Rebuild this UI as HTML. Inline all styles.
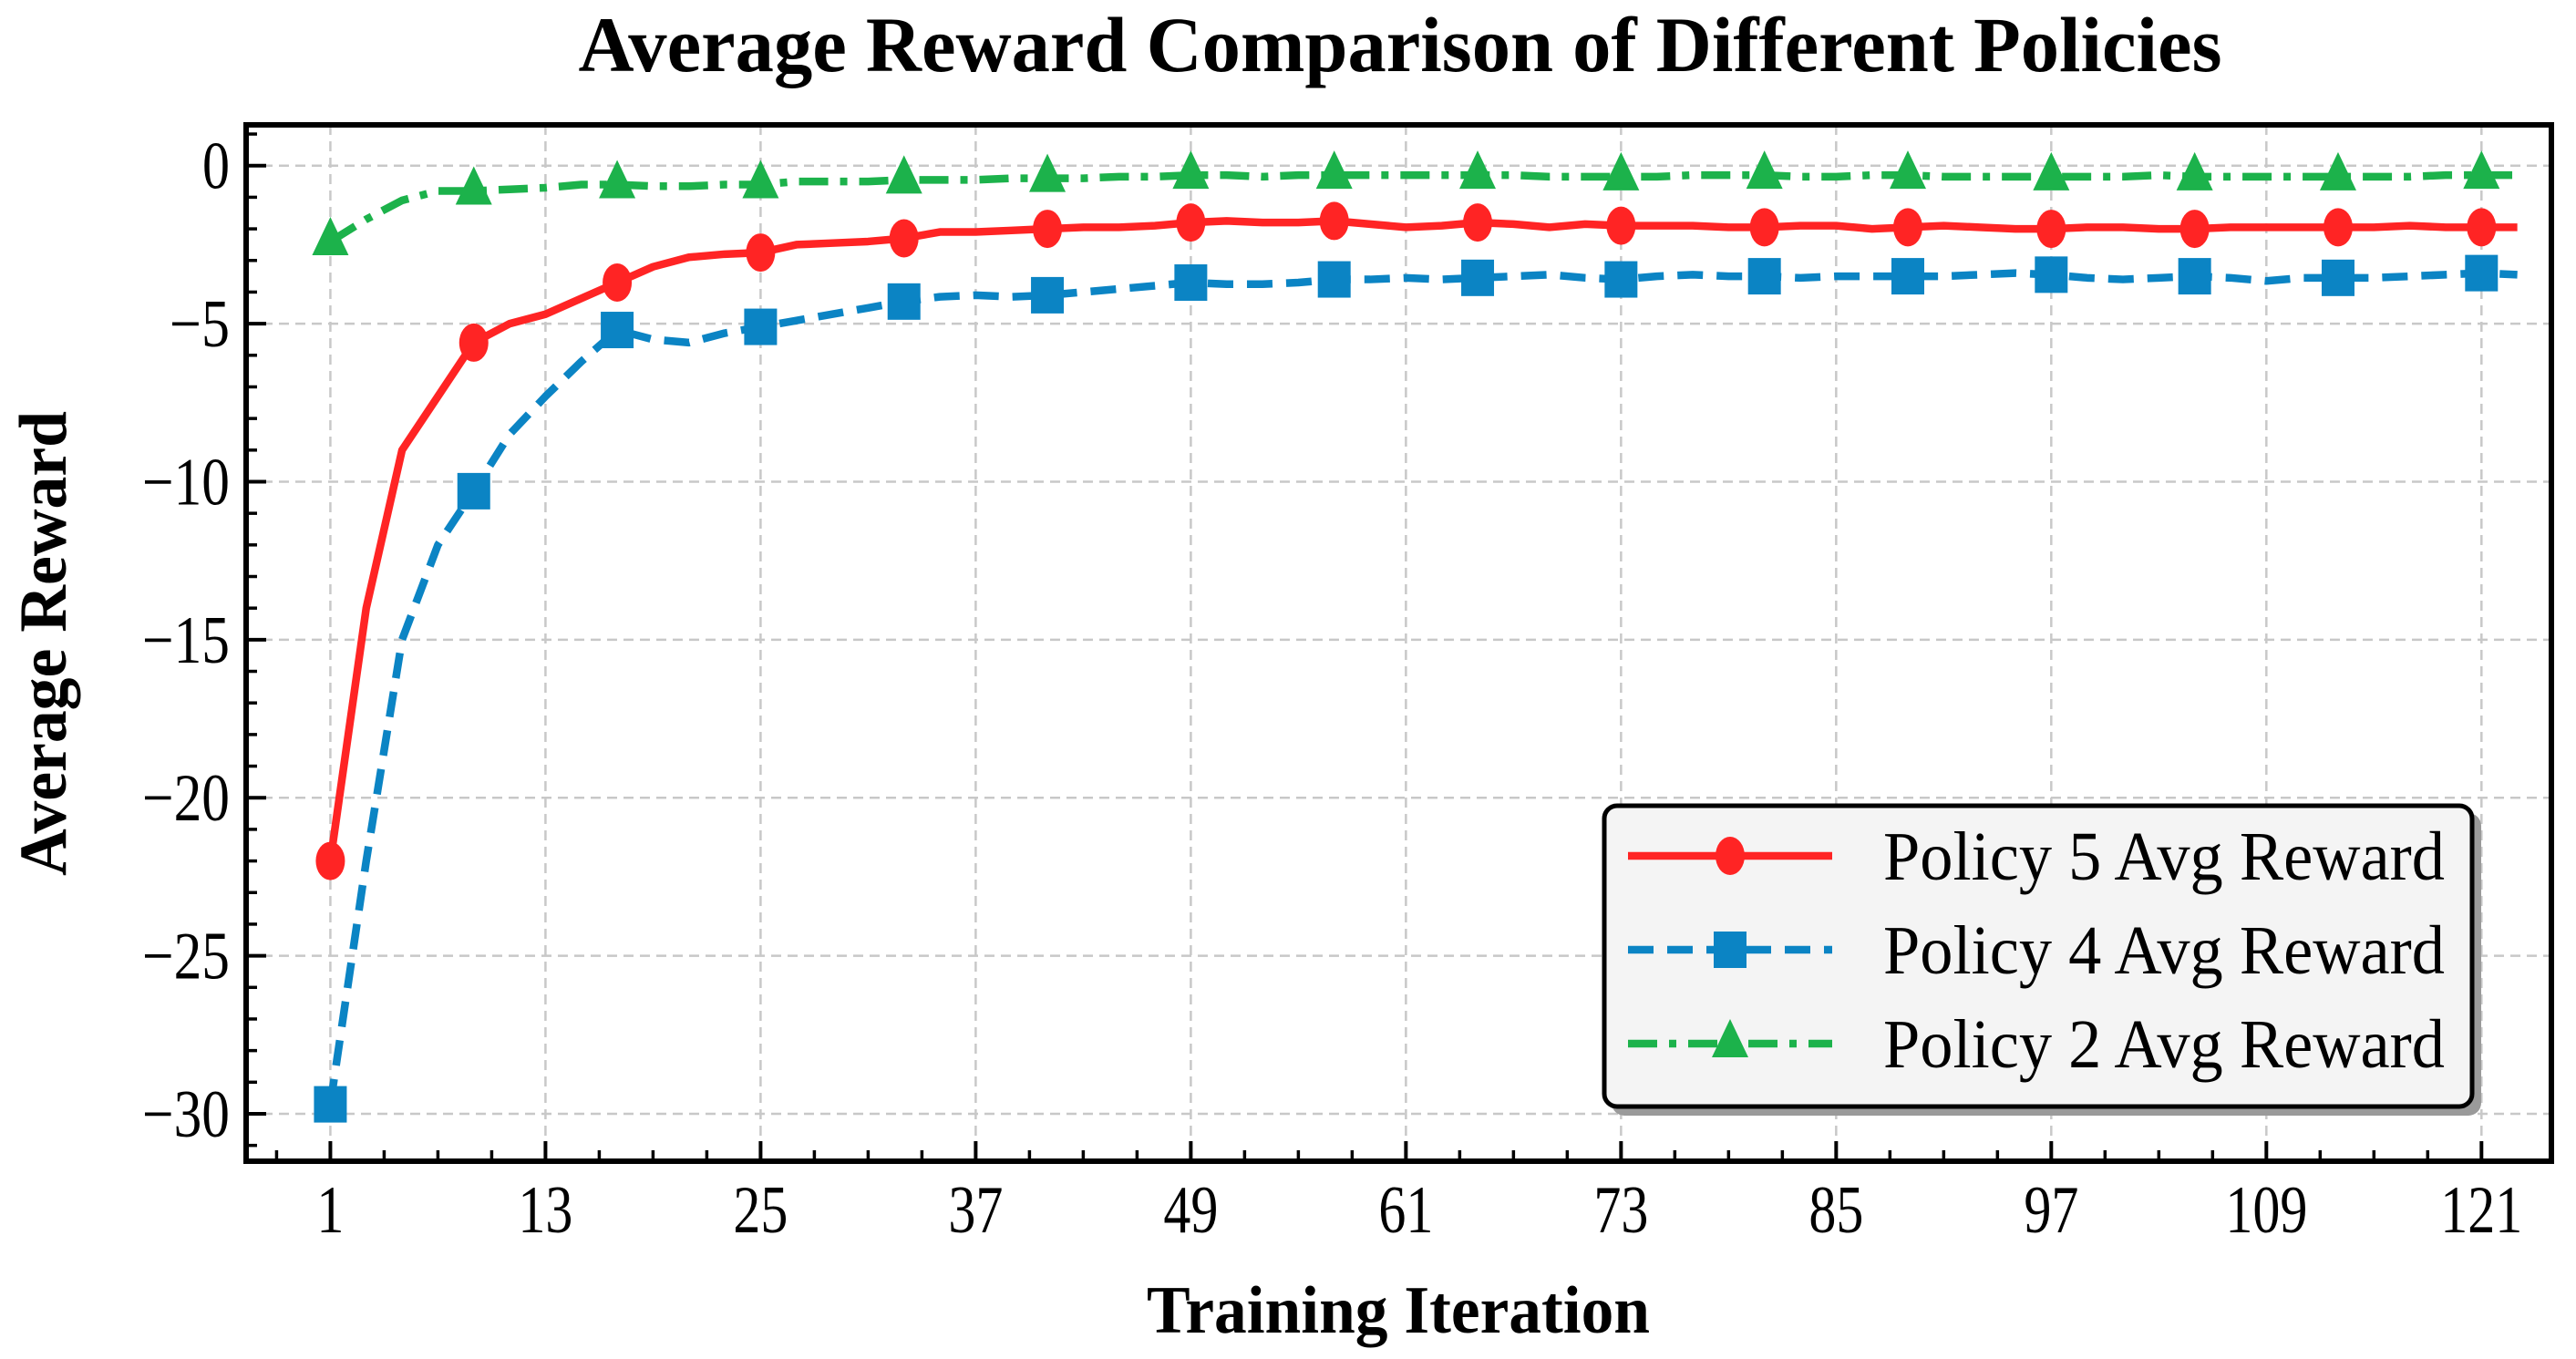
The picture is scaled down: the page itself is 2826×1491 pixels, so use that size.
<!DOCTYPE html>
<html><head><meta charset="utf-8"><style>html,body{margin:0;padding:0;background:#fff}svg{display:block}text{font-family:"Liberation Serif",serif}</style></head>
<body>
<svg id="chart" width="2826" height="1491" viewBox="0 0 2826 1491" xmlns="http://www.w3.org/2000/svg">
<rect width="2826" height="1491" fill="#fff"/>
<text x="1536" y="78" font-size="86" font-weight="bold" text-anchor="middle" textLength="1803" lengthAdjust="spacingAndGlyphs">Average Reward Comparison of Different Policies</text>
<text x="1534" y="1462" font-size="74" font-weight="bold" text-anchor="middle" textLength="552" lengthAdjust="spacingAndGlyphs">Training Iteration</text>
<text transform="translate(72,706) rotate(-90)" font-size="74" font-weight="bold" text-anchor="middle" textLength="510" lengthAdjust="spacingAndGlyphs">Average Reward</text>
<g id="grid"></g><g id="series"></g><g id="axes"></g><g id="legend"></g>
</svg>
<script>
const iters = [1,3,5,7,9,11,13,15,17,19,21,23,25,27,29,31,33,35,37,39,41,43,45,47,49,51,53,55,57,59,61,63,65,67,69,71,73,75,77,79,81,83,85,87,89,91,93,95,97,99,101,103,105,107,109,111,113,115,117,119,121,123];
const policy5 = [-22,-14.0,-9.0,-7.3,-5.6,-5.0,-4.7,-4.2,-3.7,-3.2,-2.9,-2.8,-2.75,-2.5,-2.45,-2.4,-2.3,-2.1,-2.1,-2.05,-2.0,-1.95,-1.95,-1.9,-1.8,-1.75,-1.8,-1.8,-1.75,-1.85,-1.95,-1.9,-1.8,-1.85,-1.95,-1.85,-1.9,-1.9,-1.9,-1.95,-1.95,-1.9,-1.9,-2.0,-1.95,-1.9,-1.95,-2.0,-2.0,-1.95,-1.95,-2.0,-2.0,-1.95,-1.95,-1.95,-1.95,-1.95,-1.9,-1.95,-1.95,-1.95];
const policy4 = [-29.7,-22,-15,-12,-10.3,-8.5,-7.3,-6.2,-5.2,-5.5,-5.6,-5.3,-5.1,-4.9,-4.7,-4.5,-4.3,-4.15,-4.1,-4.15,-4.1,-4.0,-3.9,-3.8,-3.7,-3.75,-3.75,-3.7,-3.6,-3.6,-3.55,-3.6,-3.55,-3.5,-3.45,-3.55,-3.6,-3.5,-3.45,-3.5,-3.5,-3.55,-3.5,-3.5,-3.5,-3.5,-3.45,-3.4,-3.45,-3.55,-3.6,-3.55,-3.5,-3.55,-3.65,-3.55,-3.55,-3.55,-3.5,-3.45,-3.4,-3.45];
const policy2 = [-2.4,-1.7,-1.1,-0.8,-0.8,-0.75,-0.7,-0.6,-0.6,-0.65,-0.65,-0.6,-0.6,-0.5,-0.5,-0.5,-0.45,-0.45,-0.45,-0.4,-0.4,-0.4,-0.35,-0.35,-0.3,-0.3,-0.35,-0.3,-0.3,-0.3,-0.3,-0.3,-0.3,-0.3,-0.35,-0.35,-0.35,-0.35,-0.3,-0.3,-0.3,-0.35,-0.35,-0.3,-0.3,-0.35,-0.35,-0.35,-0.35,-0.35,-0.35,-0.3,-0.35,-0.35,-0.35,-0.35,-0.35,-0.35,-0.35,-0.3,-0.3,-0.3];
const xTicks = [1,13,25,37,49,61,73,85,97,109,121];
const yTicks = [0,-5,-10,-15,-20,-25,-30];
const legendLabels = ["Policy 5 Avg Reward","Policy 4 Avg Reward","Policy 2 Avg Reward"];

const NS="http://www.w3.org/2000/svg";
const L=270,R=2799,T=137,B=1274;
const X0=-3.7,X1=124.9,Y0=-31.5,Y1=1.29;
const sx=v=>L+(v-X0)/(X1-X0)*(R-L);
const sy=v=>T+(Y1-v)/(Y1-Y0)*(B-T);
function mk(tag,attrs,parent){const e=document.createElementNS(NS,tag);for(const k in attrs)e.setAttribute(k,attrs[k]);parent.appendChild(e);return e;}
const grid=document.getElementById('grid'),ser=document.getElementById('series'),axes=document.getElementById('axes'),leg=document.getElementById('legend');
xTicks.forEach(t=>{const e=mk('line',{x1:sx(t),x2:sx(t),y1:T,y2:B,stroke:'#c8c8c8','stroke-width':2.5,'stroke-dasharray':'11 7'},grid);

});
yTicks.forEach(t=>{const e=mk('line',{x1:L,x2:R,y1:sy(t),y2:sy(t),stroke:'#c8c8c8','stroke-width':2.5,'stroke-dasharray':'11 7'},grid);

});

const series=[
 {vals:policy5,color:'#ff2424',dash:'',marker:'circle',name:'policy-5'},
 {vals:policy4,color:'#0b84c4',dash:'28 15',marker:'square',name:'policy-4'},
 {vals:policy2,color:'#1cb24b',dash:'32 13 8 13',marker:'triangle',name:'policy-2'}];
function marker(type,x,y,color,g){
 let e;
 if(type==='circle')e=mk('ellipse',{cx:x,cy:y,rx:16,ry:21,fill:color},g);
 else if(type==='square')e=mk('rect',{x:x-18,y:y-20,width:36,height:40,fill:color},g);
 else e=mk('polygon',{points:`${x},${y-27} ${x-20},${y+15} ${x+20},${y+15}`,fill:color},g);
 return e;
}
series.forEach(s=>{
 const g=mk('g',{},ser);
 
 
 const pts=iters.map((it,i)=>sx(it)+','+sy(s.vals[i])).join(' ');
 const p=mk('polyline',{points:pts,fill:'none',stroke:s.color,'stroke-width':8.5,'stroke-dasharray':s.dash,'stroke-linejoin':'round'},g);
 
 
 iters.forEach((it,i)=>{if((it-1)%8===0){const m=marker(s.marker,sx(it),sy(s.vals[i]),s.color,g);
 
 }});
});

const fr=mk('rect',{x:L,y:T,width:R-L,height:B-T,fill:'none',stroke:'#000','stroke-width':6},axes);


for(let v=-2;v<=123;v+=3){const major=xTicks.includes(v);const e=mk('line',{x1:sx(v),x2:sx(v),y1:B,y2:B-(major?22:12),stroke:'#000','stroke-width':major?4:3.5},axes);

}
xTicks.forEach(t=>{const s=String(t);const e=mk('text',{x:sx(t),y:B+78,'font-size':74,'text-anchor':'middle',textLength:s.length*30,lengthAdjust:'spacingAndGlyphs'},axes);e.textContent=s;

});
for(let v=1;v>=-31;v--){const major=v%5===0;const e=mk('line',{x1:L,x2:L+(major?22:12),y1:sy(v),y2:sy(v),stroke:'#000','stroke-width':major?4:3.5},axes);

}
yTicks.forEach(t=>{const s=t===0?'0':'\u2212'+Math.abs(t);const e=mk('text',{x:L-18,y:sy(t)+25,'font-size':74,'text-anchor':'end',textLength:t===0?30:(s.length-1)*30+36,lengthAdjust:'spacingAndGlyphs'},axes);e.textContent=s;

});

const lg=mk('g',{},leg);


mk('rect',{x:1768,y:892,width:954,height:332,rx:14,fill:'#9a9a9a'},lg);
mk('rect',{x:1760,y:884,width:952,height:330,rx:14,fill:'#f4f4f4',stroke:'#000','stroke-width':5},lg);
series.forEach((s,i)=>{
 const y=939+i*103;
 const ent=mk('g',{},lg);
 
 
 mk('line',{x1:1786,x2:2010,y1:y,y2:y,stroke:s.color,'stroke-width':8.5,'stroke-dasharray':s.dash},ent);
 marker(s.marker,1898,y,s.color,ent);
 const t=mk('text',{x:2066,y:y+26,'font-size':76,textLength:616,lengthAdjust:'spacingAndGlyphs'},ent);
 t.textContent=legendLabels[i];
});
</script>
</body></html>
